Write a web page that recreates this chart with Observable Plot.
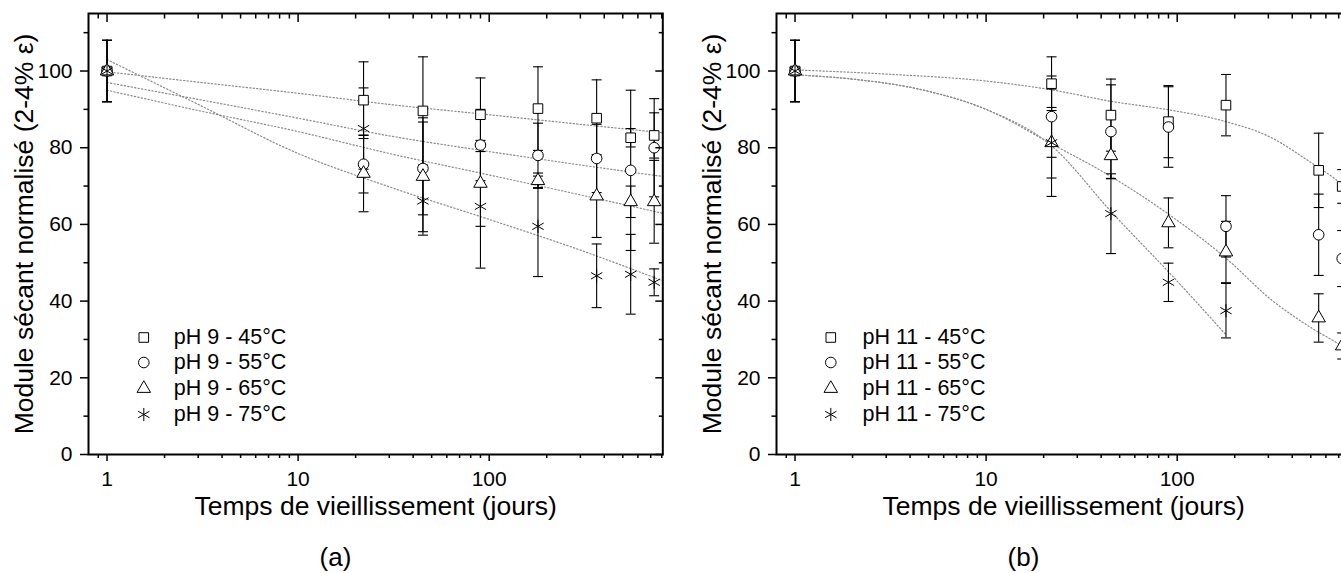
<!DOCTYPE html>
<html>
<head>
<meta charset="utf-8">
<script src="https://cdn.jsdelivr.net/npm/d3@7"></script>
<script src="https://cdn.jsdelivr.net/npm/@observablehq/plot@0.6"></script>
<style>
html, body { margin: 0; padding: 0; background: #fff; overflow: hidden; }
#root { position: relative; width: 1341px; height: 573px; overflow: hidden; background: #fff; }
.panel { position: absolute; top: 0; }
</style>
</head>
<body>
<div id="root">
  <div id="pa" class="panel" style="left:0px"></div>
  <div id="pb" class="panel" style="left:687.7px"></div>
</div>
<script>
// ---------- DATA ----------
// Panel (a) : pH 9
const daysA = [1, 22, 45, 90, 180, 365, 550, 730];
const a45 = [100, 92.4, 89.6, 88.6, 90.2, 87.7, 82.6, 83.2];
const a45err = [8, 10, 14.1, 9.6, 10.9, 10, 2.4, 5.9];
const a55 = [100, 75.7, 74.6, 80.7, 78.0, 77.2, 74.1, 80.0];
const a55err = [8, 7.5, 12.1, 9.3, 8.4, 8.9, 20.9, 12.8];
const a65 = [100, 73.3, 72.5, 70.7, 71.4, 67.4, 65.9, 65.9];
const a65err = [8, 10, 15.3, 11.2, 2, 10.8, 4.1, 10.8];
const a75 = [100, 85.0, 66.1, 64.7, 59.5, 46.6, 47.0, 44.9];
const a75err = [8, 10.6, 8, 16.1, 13.1, 8.3, 10.4, 3.5];

// Panel (b) : pH 11
const daysB = [1, 22, 45, 90, 180, 550, 730];
const b45 = [100, 96.7, 88.5, 86.8, 91.1, 74.1, 69.9];
const b45err = [8, 7, 9.4, 9.4, 8, 9.7, 4.4];
const b55 = [100, 88.1, 84.2, 85.4, 59.5, 57.3, 51.1];
const b55err = [8, 10.6, 12.2, 10.5, 8, 10.6, 7.3];
const b65 = [100, 81.3, 77.9, 60.4, 52.8, 35.6, 28.3];
const b65err = [8, 9.2, 6, 6.5, 8, 6.3, 3.4];
const daysB75 = [1, 22, 45, 90, 180];
const b75 = [100, 81.3, 62.8, 44.9, 37.5];
const b75err = [8, 14, 10.4, 5, 7.1];

// Fitted curves (dotted)
const fitXA = [1, 3, 10, 30, 100, 300, 810];
const fitA45 = [99.8, 97.1, 94.2, 91.3, 88.6, 86.1, 83.9];
const fitA55 = [97.0, 92.6, 87.7, 83.1, 79.0, 75.5, 72.5];
const fitA65 = [95.0, 89.7, 84.2, 78.5, 72.9, 67.7, 62.9];
const fitA75 = [103.0, 91.3, 78.5, 69.8, 61.3, 53.3, 45.3];

const fitXB45 = [1, 3, 10, 22, 45, 90, 180, 300, 520, 660, 810];
const fitB45 = [100.3, 99.2, 97.4, 95.1, 92.1, 89.9, 86.8, 83.0, 75.6, 72.1, 68.5];
const fitXB65 = [1, 2, 5, 10, 22, 45, 96, 180, 310, 520, 670, 810];
const fitB65 = [99.0, 97.9, 94.7, 90.0, 81.0, 72.5, 61.7, 51.2, 40.4, 32.6, 29.4, 26.8];
const fitXB75 = [1, 2, 5, 10, 22, 45, 100, 180];
const fitB75 = [99.0, 97.9, 94.7, 90.0, 80.5, 63.4, 45.2, 31.2];

const labelsA = ["pH 9 - 45°C", "pH 9 - 55°C", "pH 9 - 65°C", "pH 9 - 75°C"];
const labelsB = ["pH 11 - 45°C", "pH 11 - 55°C", "pH 11 - 65°C", "pH 11 - 75°C"];
const symbols = ["square", "circle", "triangle", "asterisk"];

const yMajor = [0, 20, 40, 60, 80, 100];
const yMinor = [10, 30, 50, 70, 90, 110];
const xMajor = [1, 10, 100];
const xMinor = [0.9, 2, 3, 4, 5, 6, 7, 8, 9, 20, 30, 40, 50, 60, 70, 80, 90, 200, 300, 400, 500, 600, 700, 800];

const xTitle = "Temps de vieillissement (jours)";
const yTitle = "Module sécant normalisé (2-4% ε)";

// ---------- BUILD ----------
const FONT = "'Liberation Sans', Arial, Helvetica, sans-serif";
const capSym = { draw(ctx, size) { const r = Math.sqrt(size / Math.PI); ctx.moveTo(-r, 0); ctx.lineTo(r, 0); } };
const symR = { square: 5.4, circle: 5.3, triangle: 5, asterisk: 6.2 };

function pts(days, vals, errs, s) {
  return days.map((d, i) => ({ x: d, y: vals[i], lo: vals[i] - errs[i], hi: vals[i] + errs[i], s }));
}
function fit(xs, ys, s) { return xs.map((x, i) => ({ x, y: ys[i], s })); }

function panel(series, fits, labels, caption, legDx, txtDx) {
  const all = series.flat();
  const marks = [
    Plot.line(fits.flat(), { x: "x", y: "y", z: "s", stroke: "#8a8a8a", strokeWidth: 1.2, strokeDasharray: "1.3,2.2", curve: "monotone-x" }),
    Plot.ruleX(all, { x: "x", y1: "lo", y2: "hi", stroke: "#000", strokeWidth: 1.1 }),
    Plot.dot(all, { x: "x", y: "lo", symbol: capSym, r: 5, stroke: "#000", fill: "none", strokeWidth: 1.1 }),
    Plot.dot(all, { x: "x", y: "hi", symbol: capSym, r: 5, stroke: "#000", fill: "none", strokeWidth: 1.1 })
  ];
  series.forEach((ser, k) => {
    const sym = symbols[k];
    marks.push(Plot.dot(ser, { x: "x", y: "y", symbol: sym, r: symR[sym], stroke: "#000", strokeWidth: 1, fill: sym === "asterisk" ? "none" : "white" }));
  });
  // axes
  marks.push(
    Plot.axisX({ ticks: xMajor, tickSize: 7, tickPadding: 10, tickFormat: d => String(d), fontSize: 21, label: null, strokeWidth: 1.5 }),
    Plot.axisX({ ticks: xMinor, tickSize: 4, tickFormat: () => "", label: null, strokeWidth: 1.5 }),
    Plot.axisX({ anchor: "top", ticks: xMajor, tickSize: 8, dy: 8, tickFormat: () => "", label: null, strokeWidth: 1.5 }),
    Plot.axisX({ anchor: "top", ticks: xMinor, tickSize: 4.5, dy: 4.5, tickFormat: () => "", label: null, strokeWidth: 1.5 }),
    Plot.axisY({ ticks: yMajor, tickSize: 8, tickPadding: 8, tickFormat: d => String(d), fontSize: 21, label: null, strokeWidth: 1.5 }),
    Plot.axisY({ ticks: yMinor, tickSize: 4.5, tickFormat: () => "", label: null, strokeWidth: 1.5 }),
    Plot.axisY({ anchor: "right", ticks: yMajor, tickSize: 8, dx: -8, tickFormat: () => "", label: null, strokeWidth: 1.5 }),
    Plot.axisY({ anchor: "right", ticks: yMinor, tickSize: 4.5, dx: -4.5, tickFormat: () => "", label: null, strokeWidth: 1.5 }),
    Plot.frame({ stroke: "#000", strokeWidth: 2 }),
    Plot.text([xTitle], { frameAnchor: "bottom", dy: 42, lineAnchor: "top", textAnchor: "middle", fontSize: 26.5, fill: "#000" }),
    Plot.text([yTitle], { frameAnchor: "left", dx: -63.5, rotate: -90, lineAnchor: "middle", textAnchor: "middle", fontSize: 26.5, fill: "#000" }),
    Plot.text([caption], { frameAnchor: "bottom-left", dx: 247, dy: 103, lineAnchor: "middle", textAnchor: "middle", fontSize: 26, fill: "#000" })
  );
  // legend
  const rows = [324, 349, 375, 401];
  labels.forEach((lab, k) => {
    const sym = symbols[k];
    marks.push(Plot.dot([lab], { frameAnchor: "top-left", dx: legDx, dy: rows[k], symbol: sym, r: symR[sym], stroke: "#000", strokeWidth: 1, fill: sym === "asterisk" ? "none" : "white" }));
    marks.push(Plot.text([lab], { frameAnchor: "top-left", dx: txtDx, dy: rows[k], text: d => d, textAnchor: "start", lineAnchor: "middle", fontSize: 21.5, fill: "#000" }));
  });
  return Plot.plot({
    width: 700,
    height: 573,
    marginLeft: 88,
    marginRight: 37.7,
    marginTop: 13,
    marginBottom: 119,
    x: { type: "log", domain: [0.8, 810] },
    y: { domain: [0, 115] },
    style: { background: "transparent", maxWidth: "none", overflow: "visible", fontFamily: FONT, fontSize: "21px", color: "#000" },
    marks
  });
}

const seriesA = [pts(daysA, a45, a45err, 0), pts(daysA, a55, a55err, 1), pts(daysA, a65, a65err, 2), pts(daysA, a75, a75err, 3)];
const fitsA = [fit(fitXA, fitA45, 0), fit(fitXA, fitA55, 1), fit(fitXA, fitA65, 2), fit(fitXA, fitA75, 3)];
const seriesB = [pts(daysB, b45, b45err, 0), pts(daysB, b55, b55err, 1), pts(daysB, b65, b65err, 2), pts(daysB75, b75, b75err, 3)];
const fitsB = [fit(fitXB45, fitB45, 0), fit(fitXB65, fitB65, 2), fit(fitXB75, fitB75, 3)];

document.getElementById("pa").appendChild(panel(seriesA, fitsA, labelsA, "(a)", 55.3, 85.3));
document.getElementById("pb").appendChild(panel(seriesB, fitsB, labelsB, "(b)", 54.3, 86));
</script>
</body>
</html>
